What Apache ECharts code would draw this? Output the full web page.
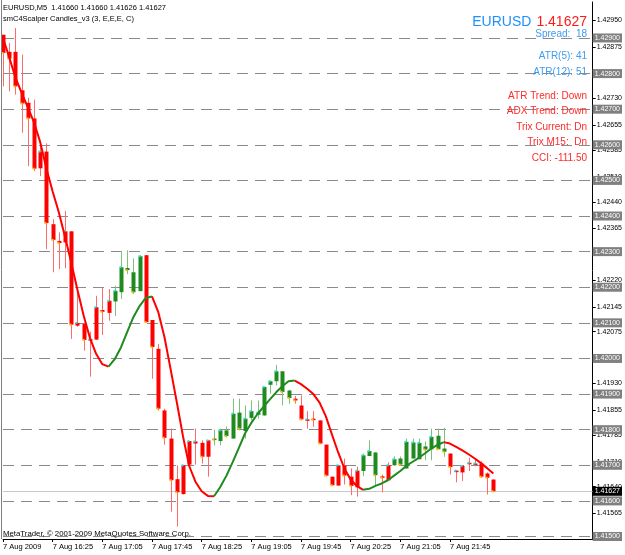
<!DOCTYPE html>
<html><head><meta charset="utf-8">
<script src="https://cdn.jsdelivr.net/npm/echarts@6/dist/echarts.min.js"></script>
<style>html,body{margin:0;padding:0;background:#fff}#c{width:625px;height:555px}</style>
</head><body><div id="c"></div>
<script>
// ---------- data ----------
const symbol = 'EURUSD';
const period = 'M5';
const xTickLabels = ['7 Aug 2009','7 Aug 16:25','7 Aug 17:05','7 Aug 17:45','7 Aug 18:25','7 Aug 19:05','7 Aug 19:45','7 Aug 20:25','7 Aug 21:05','7 Aug 21:45'];
const yTickLabels = [1.41496,1.41565,1.41640,1.41710,1.41785,1.41855,1.41930,1.42000,1.42075,1.42145,1.42220,1.42296,1.42365,1.42440,1.42510,1.42585,1.42655,1.42730,1.42800,1.42875,1.42950];
const levels = [1.429,1.428,1.427,1.426,1.425,1.424,1.423,1.422,1.421,1.420,1.419,1.418,1.417,1.416,1.415];
const bidPrice = 1.41627;

const open = [
1.42909,1.42861,1.42861,1.42753,1.42718,1.42674,1.42534,1.42581,1.42377,1.42330,
1.42326,1.42357,1.42092,1.42097,1.42052,1.42053,1.42136,1.42128,1.42160,1.42186,
1.42254,1.42242,1.42189,1.42290,1.42108,1.42027,1.41854,1.41775,1.41661,1.41619,
1.41702,1.41761,1.41763,1.41724,1.41775,1.41768,1.41798,1.41775,1.41848,1.41796,
1.41833,1.41842,1.41840,1.41926,1.41936,1.41964,1.41910,1.41887,1.41868,1.41826,
1.41831,1.41826,1.41758,1.41668,1.41643,1.41699,1.41668,1.41638,1.41684,1.41726,
1.41736,1.41669,1.41658,1.41700,1.41719,1.41691,1.41719,1.41717,1.41753,1.41745,
1.41783,1.41747,1.41733,1.41681,1.41680,1.41705,1.41703,1.41705,1.41677,1.41660];
const high = [
1.42909,1.42886,1.42928,1.42853,1.42732,1.42727,1.42604,1.42604,1.42391,1.42354,
1.42414,1.42357,1.42195,1.42100,1.42075,1.42176,1.42201,1.42195,1.42204,1.42302,
1.42304,1.42281,1.42290,1.42290,1.42108,1.42041,1.41859,1.41803,1.41700,1.41700,
1.41768,1.41803,1.41770,1.41770,1.41800,1.41803,1.41809,1.41887,1.41887,1.41868,
1.41882,1.41882,1.41921,1.41938,1.41982,1.41964,1.41912,1.41895,1.41896,1.41852,
1.41852,1.41826,1.41758,1.41668,1.41700,1.41719,1.41691,1.41696,1.41733,1.41770,
1.41736,1.41674,1.41708,1.41725,1.41725,1.41775,1.41775,1.41775,1.41767,1.41803,
1.41803,1.41805,1.41733,1.41686,1.41698,1.41721,1.41715,1.41711,1.41680,1.41660];
const low = [
1.42764,1.42750,1.42741,1.42634,1.42540,1.42526,1.42512,1.42307,1.42242,1.42251,
1.42253,1.42055,1.42089,1.42022,1.41949,1.42052,1.42066,1.42106,1.42119,1.42167,
1.42237,1.42181,1.42189,1.42100,1.41943,1.41854,1.41758,1.41570,1.41528,1.41618,
1.41700,1.41702,1.41705,1.41668,1.41756,1.41756,1.41778,1.41775,1.41798,1.41775,
1.41826,1.41831,1.41839,1.41901,1.41924,1.41868,1.41873,1.41873,1.41826,1.41803,
1.41808,1.41761,1.41669,1.41643,1.41643,1.41646,1.41616,1.41612,1.41669,1.41726,
1.41644,1.41624,1.41658,1.41699,1.41699,1.41691,1.41719,1.41717,1.41714,1.41714,
1.41745,1.41724,1.41674,1.41652,1.41656,1.41684,1.41697,1.41665,1.41618,1.41626];
const close = [
1.42858,1.42842,1.42764,1.42716,1.42674,1.42533,1.42581,1.42380,1.42333,1.42324,
1.42357,1.42095,1.42100,1.42052,1.42054,1.42144,1.42131,1.42162,1.42190,1.42256,
1.42248,1.42186,1.42287,1.42102,1.42032,1.41859,1.41777,1.41658,1.41624,1.41700,
1.41768,1.41767,1.41724,1.41770,1.41772,1.41798,1.41782,1.41845,1.41803,1.41831,
1.41852,1.41848,1.41920,1.41936,1.41964,1.41906,1.41889,1.41882,1.41829,1.41829,
1.41828,1.41761,1.41671,1.41644,1.41700,1.41671,1.41642,1.41685,1.41728,1.41740,
1.41672,1.41665,1.41700,1.41717,1.41702,1.41766,1.41764,1.41763,1.41744,1.41780,
1.41745,1.41738,1.41695,1.41685,1.41698,1.41707,1.41705,1.41668,1.41665,1.41627];
// candle colouring from the indicator: 1 = up trend (green), 0 = down trend (red)
const trend = [
0,0,0,0,0,0,0,0,0,0, 0,0,0,0,0,0,0,0,1,1,
1,1,1,0,0,0,0,0,0,0, 0,0,0,0,1,1,1,1,1,1,
1,1,1,1,1,1,1,0,0,0, 0,0,0,0,0,0,0,0,1,1,
1,0,0,1,1,1,1,1,1,1, 1,1,0,0,0,0,0,0,0,0];
// smoothed signal line
const signal = [
1.42900,1.42846,1.42789,1.42746,1.42705,1.42663,1.42607,1.42533,1.42469,1.42410,
1.42341,1.42269,1.42192,1.42120,1.42058,1.42013,1.41984,1.41977,1.41998,1.42031,
1.42074,1.42116,1.42147,1.42170,1.42174,1.42131,1.42061,1.41970,1.41877,1.41781,
1.41698,1.41654,1.41627,1.41614,1.41613,1.41639,1.41671,1.41709,1.41749,1.41790,
1.41819,1.41844,1.41865,1.41885,1.41905,1.41922,1.41936,1.41938,1.41928,1.41915,
1.41900,1.41876,1.41838,1.41786,1.41736,1.41691,1.41660,1.41642,1.41631,1.41634,
1.41642,1.41649,1.41658,1.41671,1.41684,1.41699,1.41710,1.41721,1.41734,1.41747,
1.41757,1.41765,1.41761,1.41752,1.41742,1.41731,1.41719,1.41706,1.41692,1.41677];
const infoBlue = ['Spread:  18','ATR(5): 41','ATR(12): 51'];
const infoRed = ['ATR Trend: Down','ADX Trend: Down','Trix Current: Dn','Trix M15:  Dn','CCI: -111.50'];

// ---------- build ----------
const N_BARS = open.length, N_SLOTS = 96;
const slots = [];
for (let k = 0; k < N_SLOTS; k++) {
  const m = 15*60 + 45 + 5*k;
  slots.push(String(Math.floor(m/60)).padStart(2,'0') + ':' + String(m%60).padStart(2,'0'));
}
const candles = open.map((o,i)=>[i,o,close[i],low[i],high[i],trend[i]]);
const redLine = new Array(N_BARS).fill('-'), greenLine = new Array(N_BARS).fill('-');
for (let i = 0; i < N_BARS-1; i++) {
  const tgt = signal[i+1] < signal[i] ? redLine : greenLine;
  tgt[i] = signal[i]; tgt[i+1] = signal[i+1];
}
const RED='#ff0000', GREEN='#1f8b1f', RED_W='#ff6a6a', GREEN_W='#7cc27c', CYAN='#22e6e6', YELLOW='#ffc400';
const F = '"Liberation Sans",Arial,sans-serif';
const fmt = v => v.toFixed(5);

const tickShown = idx => idx % 8 === 0 && idx < N_BARS;

const titles = [
  {left:3, top:4, text:`${symbol},${period}  ${fmt(open[N_BARS-1])} ${fmt(high[N_BARS-1])} ${fmt(low[N_BARS-1])} ${fmt(close[N_BARS-1])}`, textStyle:{fontSize:7.5}},
  {left:3, top:15, text:'smC4Scalper Candles_v3 (3, E,E,E, C)', textStyle:{fontSize:7.5}},
  {right:38, top:13, text:`{a|${symbol}} {b|${fmt(close[N_BARS-1])}}`, textStyle:{rich:{a:{color:'#1e90ff',fontSize:14,fontFamily:F},b:{color:'#ff1a1a',fontSize:14,fontFamily:F}}}},
  {left:3, top:530, text:'MetaTrader, © 2001-2009 MetaQuotes Software Corp.', textStyle:{fontSize:7.8}}
];
const blueTops = [29, 51, 67];
infoBlue.forEach((t,k)=>titles.push({right:38, top:blueTops[k], text:t, textStyle:{fontSize:10, color:'#3f9cf0'}}));
const redTops = [91, 106, 122, 137, 153];
infoRed.forEach((t,k)=>titles.push({right:38, top:redTops[k], text:t, textStyle:{fontSize:10, color:'#ff2a2a'}}));
titles.forEach(t=>{ t.padding = 0; t.textStyle = Object.assign({color:'#000', fontWeight:'normal', fontFamily:F}, t.textStyle); });

const levelLines = levels.map(v=>({yAxis:v}));
const bidLine = {yAxis:bidPrice, lineStyle:{type:'solid', color:'#c8c8c8'}, label:{backgroundColor:'#000'}};

const option = {
  animation:false,
  backgroundColor:'#fff',
  title: titles,
  grid:{left:3, right:28, top:2, bottom:16, containLabel:false},
  xAxis:{
    type:'category', data:slots, boundaryGap:false,
    axisLine:{lineStyle:{color:'#000', width:1}},
    axisTick:{interval:tickShown, length:3, lineStyle:{color:'#000'}},
    axisLabel:{interval:tickShown, align:'left', margin:4, fontSize:7.5, color:'#000', fontFamily:F,
      formatter:(v,idx)=> tickShown(idx) ? xTickLabels[idx/8] : ''},
    splitLine:{show:false}
  },
  yAxis:{
    type:'value', position:'right', min:1.41493, max:1.43001, scale:true,
    axisLine:{show:true, lineStyle:{color:'#000', width:1}},
    axisTick:{show:true, length:3, customValues:yTickLabels, lineStyle:{color:'#000'}},
    axisLabel:{customValues:yTickLabels, formatter:v=>fmt(v), margin:4, fontSize:7, color:'#000', fontFamily:F},
    splitLine:{show:false}
  },
  graphic:[{type:'line', shape:{x1:1.5,y1:0,x2:1.5,y2:539}, style:{stroke:'#808080', lineWidth:1}, z:100}],
  series:[
    {
      type:'line', data:[], z:1, silent:true,
      markLine:{
        silent:true, symbol:['none','none'], animation:false, precision:5, z:1,
        lineStyle:{type:[11,7], color:'#8a8a8a', width:1},
        label:{position:'end', distance:0, formatter:p=>fmt(p.value), color:'#fff', backgroundColor:'#808080',
               fontSize:7, fontFamily:F, padding:[1,2,1,2]},
        emphasis:{disabled:true},
        data:[...levelLines, bidLine]
      }
    },
    {
      type:'custom', z:3, encode:{x:0, y:[1,2,3,4]}, data:candles,
      renderItem:(params, api)=>{
        const i=api.value(0), o=api.value(1), c=api.value(2), l=api.value(3), h=api.value(4), t=api.value(5);
        const po=api.coord([i,o]), pc=api.coord([i,c]), pl=api.coord([i,l]), ph=api.coord([i,h]);
        const x=Math.round(po[0]);
        const top=Math.min(po[1],pc[1]), bot=Math.max(po[1],pc[1]);
        const ch=[
          {type:'line', shape:{x1:x+0.5,y1:ph[1],x2:x+0.5,y2:pl[1]}, style:{stroke:t?GREEN_W:RED_W, lineWidth:1}},
          {type:'rect', shape:{x:x-1.5,y:top,width:4,height:Math.max(1.5,bot-top)}, style:{fill:t?GREEN:RED}}
        ];
        if (c!==o) ch.push({type:'rect', shape:{x:x-1.5,y:pc[1]-1,width:2,height:2}, style:{fill:c>o?CYAN:YELLOW}});
        return {type:'group', children:ch};
      }
    },
    {type:'line', data:redLine, z:4, showSymbol:false, connectNulls:false, lineStyle:{color:RED, width:2}, itemStyle:{color:RED}, silent:true},
    {type:'line', data:greenLine, z:4, showSymbol:false, connectNulls:false, lineStyle:{color:GREEN, width:2}, itemStyle:{color:GREEN}, silent:true}
  ]
};
const chart = echarts.init(document.getElementById('c'), null, {renderer:'canvas'});
chart.setOption(option);
</script></body></html>
